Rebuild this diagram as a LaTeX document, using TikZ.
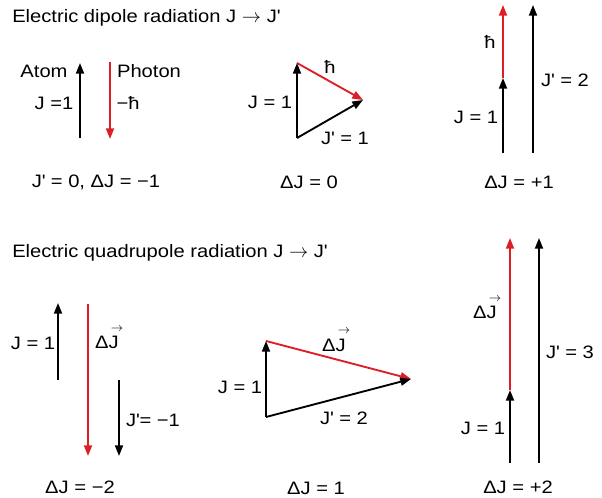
\documentclass[tikz,border=0pt]{standalone}
\usepackage{fontspec}
\setmainfont[FakeStretch=1.12]{Liberation Sans}
\usetikzlibrary{arrows.meta}
\definecolor{arrred}{RGB}{222,30,38}
\newcommand{\myvJ}{\rlap{\raisebox{0.95em}{\kern0.12em$\scriptstyle\rightarrow$}}J}
\newcommand{\pr}{\textquotesingle}
\begin{document}
\begin{tikzpicture}[x=0.75pt,y=-0.75pt,
  font=\fontsize{13.5}{16}\selectfont,
  vec/.style={line width=1.4pt,-{Triangle[length=8pt,width=6pt]}},
  redvec/.style={line width=1.4pt,draw=arrred,-{Triangle[length=8pt,width=6pt,fill=arrred]}},
  lbl/.style={inner sep=0pt}]
\useasboundingbox (0,0) rectangle (602,498);

% titles
\node[lbl,anchor=west] (t1) at (12,18) {Electric dipole radiation J $\rightarrow$ J\pr};
\node[lbl,anchor=west] (t2) at (12,253) {Electric quadrupole radiation J $\rightarrow$ J\pr};

% panel 1
\coordinate (a1s) at (80,138); \coordinate (a1e) at (80,63);
\coordinate (p1s) at (110,62); \coordinate (p1e) at (110,139);
\draw[vec] (a1s) -- (a1e);
\draw[redvec] (p1s) -- (p1e);
\node[lbl] (atom) at (44,71) {Atom};
\node[lbl] (photon) at (149,71) {Photon};
\node[lbl] (j1a) at (54,103) {J =1};
\node[lbl] (mh) at (128,103) {−ħ};
\node[lbl] (c1) at (96,182) {J\pr{} = 0, ΔJ = −1};

% panel 2
\coordinate (b2) at (297,138); \coordinate (t2p) at (297,63); \coordinate (r2) at (363,100);
\draw[redvec] (t2p) -- (r2);
\draw[vec] (b2) -- (t2p);
\draw[vec] (b2) -- (r2);
\node[lbl] (h2) at (330,67) {ħ};
\node[lbl] (j2) at (270,102) {J = 1};
\node[lbl] (jp2) at (345,138) {J\pr{} = 1};
\node[lbl] (c2) at (309,182) {ΔJ = 0};

% panel 3
\coordinate (b3) at (503,153); \coordinate (m3) at (503,78); \coordinate (e3) at (503,5);
\coordinate (b3t) at (533,153); \coordinate (e3t) at (533,5);
\draw[redvec] (m3) -- (e3);
\draw[vec] (b3) -- (m3);
\draw[vec] (b3t) -- (e3t);
\node[lbl] (h3) at (490,42) {ħ};
\node[lbl] (j3) at (476,117) {J = 1};
\node[lbl] (jp3) at (565,80) {J\pr{} = 2};
\node[lbl] (c3) at (519,182) {ΔJ = +1};

% panel 4
\coordinate (a4s) at (58,380); \coordinate (a4e) at (58,303);
\coordinate (r4s) at (88,304); \coordinate (r4e) at (88,456);
\coordinate (d4s) at (119,380); \coordinate (d4e) at (119,456);
\draw[vec] (a4s) -- (a4e);
\draw[redvec] (r4s) -- (r4e);
\draw[vec] (d4s) -- (d4e);
\node[lbl] (j4) at (33,343) {J = 1};
\node[lbl,anchor=base] (dj4) at (107,349) {Δ\myvJ};
\node[lbl] (jp4) at (153,420) {J\pr= −1};
\node[lbl] (c4) at (80,487) {ΔJ = −2};

% panel 5
\coordinate (b5) at (266,417); \coordinate (t5) at (266,341); \coordinate (r5) at (411,379);
\draw[redvec] (t5) -- (r5);
\draw[vec] (b5) -- (t5);
\draw[vec] (b5) -- (r5);
\node[lbl,anchor=base] (dj5) at (334,351) {Δ\myvJ};
\node[lbl] (j5) at (240,387) {J = 1};
\node[lbl] (jp5) at (344,418) {J\pr{} = 2};
\node[lbl] (c5) at (316,488) {ΔJ = 1};

% panel 6
\coordinate (b6) at (510,463); \coordinate (m6) at (510,390); \coordinate (e6) at (510,238);
\coordinate (b6t) at (539,463); \coordinate (e6t) at (539,238);
\draw[redvec] (m6) -- (e6);
\draw[vec] (b6) -- (m6);
\draw[vec] (b6t) -- (e6t);
\node[lbl,anchor=base] (dj6) at (485,319) {Δ\myvJ};
\node[lbl] (j6) at (483,428) {J = 1};
\node[lbl] (jp6) at (570,352) {J\pr{} = 3};
\node[lbl] (c6) at (518,487) {ΔJ = +2};
\end{tikzpicture}
\end{document}
